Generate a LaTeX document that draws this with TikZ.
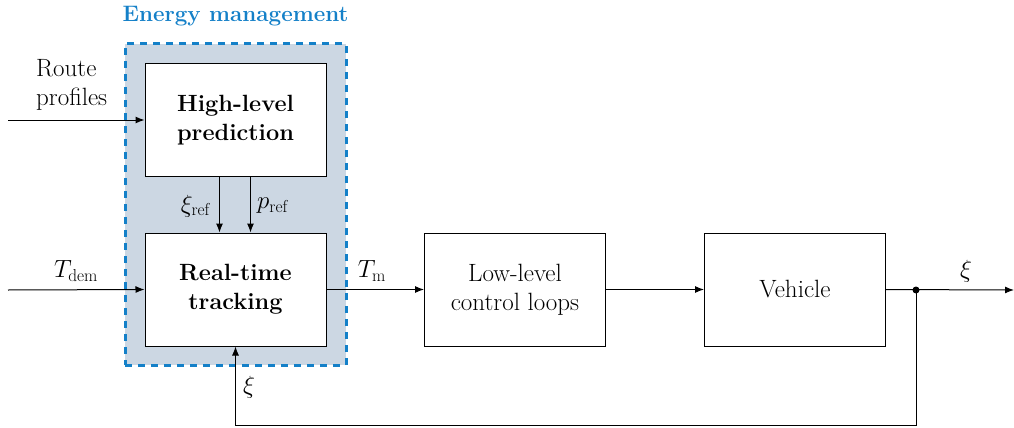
\documentclass[tikz,border=0pt]{standalone}
\usetikzlibrary{arrows.meta,calc}
\definecolor{emblue}{RGB}{20,128,200}
\definecolor{emfill}{RGB}{204,215,227}
\tikzset{
  x=1pt,y=-1pt,
  box/.style={draw=black,line width=1pt,fill=white,minimum width=181pt,minimum height=113pt,inner sep=0pt,align=center,font=\fontsize{25}{29}\selectfont},
  bbox/.style={box,font=\fontsize{23.5}{29}\selectfont\bfseries},
  arr/.style={line width=1pt,draw=black,-{Latex[length=9pt,width=7pt]}},
  lbl/.style={font=\fontsize{25}{29}\selectfont,inner sep=0pt},
}
\begin{document}
\begin{tikzpicture}
\useasboundingbox (0,0) rectangle (1014,428);
% energy management frame
\node[draw=emblue,fill=emfill,line width=3pt,dash pattern=on 7pt off 6pt,minimum width=221pt,minimum height=321pt,inner sep=0pt] (em) at (235.5,204.5) {};
\node[font=\fontsize{22.4}{26}\selectfont\bfseries,text=emblue,inner sep=0pt] (emt) at (235.5,16) {Energy management};
% blocks
\node[bbox] (hl) at (235.5,120) {High-level\\prediction};
\node[bbox] (rt) at (235.5,289.5) {Real-time\\tracking};
\node[box] (ll) at (515,289.5) {Low-level\\control loops};
\node[box] (veh) at (795,289.5) {Vehicle};
% free ends
\coordinate (rpin) at (8,120);
\coordinate (tin) at (8,290);
\coordinate (out) at (1014,290);
\coordinate (dot) at (916,290);
\coordinate (fb) at (235.5,425);
% inputs
\draw[arr] (rpin) -- (hl.west);
\node[lbl,align=left,anchor=west] (rp) at (36,85) {Route\\profiles};
\draw[arr] (tin) -- (rt.west);
\node[lbl] (tdem) at (76,271) {$T_{\mathrm{dem}}$};
% internal
\draw[arr] ([xshift=-16pt]hl.south) -- ([xshift=-16pt]rt.north);
\draw[arr] ([xshift=15pt]hl.south) -- ([xshift=15pt]rt.north);
\node[lbl] (xiref) at (196,206) {$\xi_{\mathrm{ref}}$};
\node[lbl] (pref) at (273,206) {$p_{\mathrm{ref}}$};
% main chain
\draw[arr] (rt.east) -- (ll.west);
\node[lbl] (tm) at (372,271) {$T_{\mathrm{m}}$};
\draw[arr] (ll.east) -- (veh.west);
\draw[arr] (veh.east) -- (out);
\fill (dot) circle (3.5pt);
\node[lbl] (xiout) at (966,271) {$\xi$};
% feedback
\draw[arr] (dot) -- (dot |- fb) -- (fb) -- (rt.south);
\node[lbl] (xifb) at (249,387) {$\xi$};
\end{tikzpicture}
\end{document}
